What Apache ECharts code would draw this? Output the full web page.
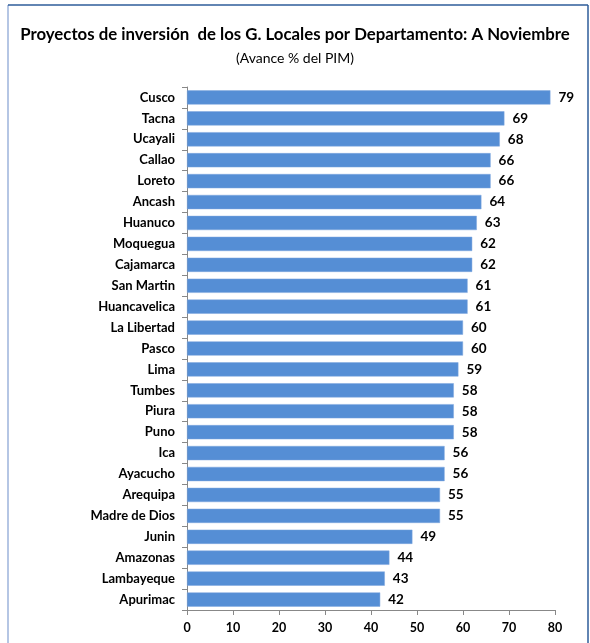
<!DOCTYPE html>
<html>
<head>
<meta charset="utf-8">
<script src="https://cdn.jsdelivr.net/npm/echarts@6/dist/echarts.min.js"></script>
<style>
html,body{margin:0;padding:0;background:#fff;}
#chart{width:590px;height:643px;}
</style>
</head>
<body>
<div id="chart"></div>
<script>
const categories = ["Cusco","Tacna","Ucayali","Callao","Loreto","Ancash","Huanuco","Moquegua","Cajamarca","San Martin","Huancavelica","La Libertad","Pasco","Lima","Tumbes","Piura","Puno","Ica","Ayacucho","Arequipa","Madre de Dios","Junin","Amazonas","Lambayeque","Apurimac"];
const values = [79,69,68,66,66,64,63,62,62,61,61,60,60,59,58,58,58,56,56,55,55,49,44,43,42];
const xTicks = [0,10,20,30,40,50,60,70,80];
const titleText = "Proyectos de inversión  de los G. Locales por Departamento: A Noviembre";
const subtitleText = "(Avance % del PIM)";

const FONT = "Lato, 'Open Sans', sans-serif";
const chart = echarts.init(document.getElementById('chart'), null, {renderer:'canvas'});
chart.setOption({
  animation:false,
  backgroundColor:'#fff',
  title:{
    text:titleText,
    subtext:subtitleText,
    left:'center',
    top:21,
    itemGap:8,
    textStyle:{fontFamily:FONT,fontWeight:'bold',fontSize:16.8,color:'#000'},
    subtextStyle:{fontFamily:FONT,fontSize:14,color:'#000'}
  },
  graphic:[
    {type:'line',shape:{x1:8,y1:5,x2:8,y2:643},style:{stroke:'#9DB3DB',lineWidth:1.5}},
    {type:'line',shape:{x1:8,y1:5,x2:588,y2:5},style:{stroke:'#2E5C9A',lineWidth:1.5}},
    {type:'line',shape:{x1:588,y1:5,x2:588,y2:643},style:{stroke:'#2E5C9A',lineWidth:1.5}}
  ],
  grid:{left:187,right:35,top:87,bottom:33,containLabel:false},
  xAxis:{
    type:'value',min:xTicks[0],max:xTicks[xTicks.length-1],interval:10,
    splitLine:{show:false},
    axisLine:{show:true,lineStyle:{color:'#888'}},
    axisTick:{show:true,length:5,lineStyle:{color:'#888'}},
    axisLabel:{fontFamily:FONT,fontWeight:'bold',fontSize:12.5,color:'#000',margin:11}
  },
  yAxis:{
    type:'category',data:categories,inverse:true,
    axisLine:{show:true,lineStyle:{color:'#888'}},
    axisTick:{show:true,length:5,lineStyle:{color:'#888'}},
    axisLabel:{fontFamily:FONT,fontWeight:'bold',fontSize:13,color:'#000',margin:12}
  },
  series:[{
    type:'bar',data:values,barCategoryGap:'32%',
    itemStyle:{color:'#558ED5',borderColor:'#7FA7DE',borderWidth:0.5},
    label:{show:true,position:'right',distance:8,fontFamily:FONT,fontWeight:'bold',fontSize:13.5,color:'#000'}
  }]
});
</script>
</body>
</html>
